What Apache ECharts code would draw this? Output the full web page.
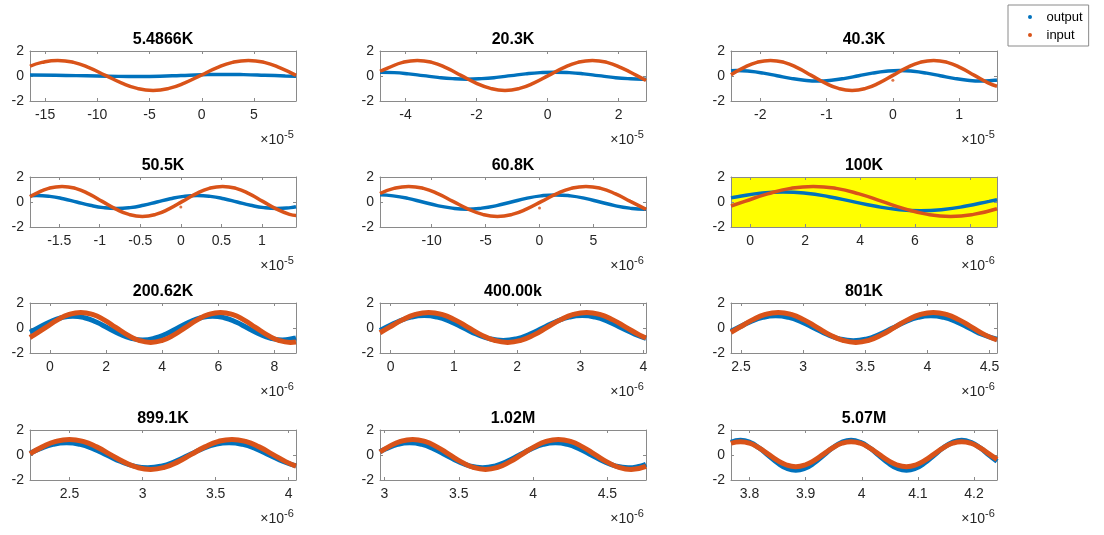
<!DOCTYPE html>
<html><head><meta charset="utf-8">
<script src="https://cdn.jsdelivr.net/npm/echarts@6/dist/echarts.min.js"></script>
<style>html,body{margin:0;padding:0;background:#fff}#c{width:1104px;height:535px}</style>
</head><body><div id="c"></div>
<script>
// ---------------- DATA ----------------
const titles = ['5.4866K','20.3K','40.3K','50.5K','60.8K','100K','200.62K','400.00k','801K','899.1K','1.02M','5.07M'];
const exponents = ['-5','-5','-5','-5','-6','-6','-6','-6','-6','-6','-6','-6'];
const xMins = [-16.44, -4.72, -2.44, -1.86, -14.8, -0.70, -0.71, -0.17, 2.42, 2.23, 2.97, 3.767];
const xMaxs = [9.02, 2.77, 1.57, 1.42, 9.88, 8.99, 8.77, 4.04, 4.56, 4.05, 4.76, 4.241];
const xTicks = [
  [-15,-10,-5,0,5], [-4,-2,0,2], [-2,-1,0,1],
  [-1.5,-1,-0.5,0,0.5,1], [-10,-5,0,5], [0,2,4,6,8],
  [0,2,4,6,8], [0,1,2,3,4], [2.5,3,3.5,4,4.5],
  [2.5,3,3.5,4], [3,3.5,4,4.5], [3.8,3.9,4,4.1,4.2]
];
const yTicks = [-2, 0, 2];
const seriesNames = ['output', 'input'];

// panel 1: 5.4866K
const out1X = [-16.44,-14,-12,-10,-8,-6,-4,-2,0,2,4,6,8,9.02];
const out1Y = [0.08,0.06,0.03,0.0,-0.03,-0.04,-0.02,0.04,0.1,0.13,0.11,0.06,0.0,-0.03];
const in1X = [-16.44,-15.3,-13.78,-12.26,-10.74,-9.22,-7.7,-6.18,-4.66,-3.14,-1.62,-0.1,1.42,2.94,4.46,5.98,7.5,9.02];
const in1Y = [0.78,1.09,1.25,1.09,0.65,0.05,-0.55,-0.99,-1.15,-0.99,-0.55,0.05,0.65,1.09,1.25,1.09,0.65,0.05];
// panel 2: 20.3K
const out2X = [-4.72,-4.32,-3.91,-3.50,-3.09,-2.68,-2.27,-1.86,-1.44,-1.03,-0.62,-0.21,0.2,0.61,1.02,1.43,1.84,2.26,2.67,2.77];
const out2Y = [0.3,0.27,0.17,0.03,-0.11,-0.21,-0.25,-0.21,-0.11,0.03,0.17,0.27,0.31,0.27,0.17,0.03,-0.11,-0.21,-0.25,-0.25];
const in2X = [-4.72,-4.49,-4.08,-3.67,-3.26,-2.85,-2.44,-2.03,-1.61,-1.20,-0.79,-0.38,0.03,0.44,0.85,1.26,1.67,2.08,2.50,2.77];
const in2Y = [0.38,0.65,1.09,1.25,1.09,0.65,0.05,-0.55,-0.99,-1.15,-0.99,-0.55,0.05,0.65,1.09,1.25,1.09,0.65,0.05,-0.36];
// panel 3: 40.3K
const out3X = [-2.44,-2.36,-2.155,-1.95,-1.745,-1.54,-1.335,-1.13,-0.925,-0.72,-0.515,-0.31,-0.105,0.1,0.305,0.51,0.715,0.92,1.125,1.33,1.535,1.57];
const out3Y = [0.43,0.44,0.38,0.23,0.02,-0.19,-0.34,-0.40,-0.34,-0.19,0.02,0.23,0.38,0.44,0.38,0.23,0.02,-0.19,-0.34,-0.40,-0.34,-0.32];
const in3X = [-2.44,-2.255,-2.05,-1.845,-1.64,-1.435,-1.23,-1.025,-0.82,-0.615,-0.41,-0.205,0,0.205,0.41,0.615,0.82,1.025,1.23,1.435,1.57];
const in3Y = [0.1,0.65,1.09,1.25,1.09,0.65,0.05,-0.55,-0.99,-1.15,-0.99,-0.55,0.05,0.65,1.09,1.25,1.09,0.65,0.05,-0.55,-0.82];
// panel 4: 50.5K
const out4X = [-1.86,-1.78,-1.615,-1.45,-1.285,-1.12,-0.955,-0.79,-0.625,-0.46,-0.295,-0.13,0.035,0.2,0.365,0.53,0.695,0.86,1.025,1.19,1.355,1.42];
const out4Y = [0.50,0.52,0.45,0.26,0,-0.26,-0.45,-0.52,-0.45,-0.26,0,0.26,0.45,0.52,0.45,0.26,0,-0.26,-0.45,-0.52,-0.45,-0.38];
const in4X = [-1.86,-1.795,-1.63,-1.465,-1.30,-1.135,-0.97,-0.805,-0.64,-0.475,-0.31,-0.145,0.02,0.185,0.35,0.515,0.68,0.845,1.01,1.175,1.34,1.42];
const in4Y = [0.42,0.65,1.09,1.25,1.09,0.65,0.05,-0.55,-0.99,-1.15,-0.99,-0.55,0.05,0.65,1.09,1.25,1.09,0.65,0.05,-0.55,-0.99,-1.07];
// panel 5: 60.8K
const out5X = [-14.8,-13.58,-12.21,-10.84,-9.47,-8.10,-6.73,-5.36,-3.98,-2.61,-1.24,0.13,1.5,2.87,4.24,5.61,6.98,8.36,9.73,9.88];
const out5Y = [0.57,0.49,0.29,0,-0.29,-0.49,-0.57,-0.49,-0.29,0,0.29,0.49,0.57,0.49,0.29,0,-0.29,-0.49,-0.57,-0.57];
const in5X = [-14.8,-13.51,-12.14,-10.77,-9.40,-8.03,-6.66,-5.28,-3.91,-2.54,-1.17,0.2,1.57,2.94,4.31,5.68,7.06,8.43,9.8,9.88];
const in5Y = [0.68,1.09,1.25,1.09,0.65,0.05,-0.55,-0.99,-1.15,-0.99,-0.55,0.05,0.65,1.09,1.25,1.09,0.65,0.05,-0.55,-0.59];
// panel 6: 100K
const out6X = [-0.70,-0.467,0.367,1.2,2.033,2.867,3.7,4.533,5.367,6.2,7.033,7.867,8.7,8.99];
const out6Y = [0.33,0.425,0.70,0.80,0.70,0.425,0.05,-0.325,-0.60,-0.70,-0.60,-0.325,0.05,0.185];
const in6X = [-0.70,-0.2,0.633,1.467,2.3,3.133,3.967,4.8,5.633,6.467,7.3,8.133,8.99];
const in6Y = [-0.32,0.05,0.65,1.09,1.25,1.09,0.65,0.05,-0.55,-0.99,-1.15,-0.99,-0.54];
// panel 7: 200.62K
const out7X = [-0.71,-0.425,-0.01,0.405,0.82,1.235,1.65,2.065,2.48,2.895,3.31,3.725,4.14,4.555,4.97,5.385,5.8,6.215,6.63,7.045,7.46,7.875,8.29,8.705,8.77];
const out7Y = [-0.33,0,0.475,0.82,0.95,0.82,0.475,0,-0.475,-0.82,-0.95,-0.82,-0.475,0,0.475,0.82,0.95,0.82,0.475,0,-0.475,-0.82,-0.95,-0.82,-0.79];
const in7X = [-0.71,-0.56,-0.145,0.27,0.685,1.1,1.515,1.93,2.345,2.76,3.175,3.59,4.005,4.42,4.835,5.25,5.665,6.08,6.495,6.91,7.325,7.74,8.155,8.57,8.77];
const in7Y = [-0.76,-0.55,0.05,0.65,1.09,1.25,1.09,0.65,0.05,-0.55,-0.99,-1.15,-0.99,-0.55,0.05,0.65,1.09,1.25,1.09,0.65,0.05,-0.55,-0.99,-1.15,-1.12];
// panel 8: 400.00k
const out8X = [-0.17,-0.095,0.113,0.322,0.53,0.738,0.947,1.155,1.363,1.572,1.78,1.988,2.197,2.405,2.613,2.822,3.03,3.238,3.447,3.655,3.863,4.04];
const out8Y = [-0.19,0,0.5,0.87,1.0,0.87,0.5,0,-0.5,-0.87,-1.0,-0.87,-0.5,0,0.5,0.87,1.0,0.87,0.5,0,-0.5,-0.82];
const in8X = [-0.17,-0.025,0.183,0.392,0.6,0.808,1.017,1.225,1.433,1.642,1.85,2.058,2.267,2.475,2.683,2.892,3.1,3.308,3.517,3.725,3.933,4.04];
const in8Y = [-0.38,0.05,0.65,1.09,1.25,1.09,0.65,0.05,-0.55,-0.99,-1.15,-0.99,-0.55,0.05,0.65,1.09,1.25,1.09,0.65,0.05,-0.55,-0.80];
// panel 9: 801K
const out9X = [2.42,2.468,2.572,2.676,2.78,2.884,2.988,3.092,3.196,3.3,3.404,3.508,3.612,3.716,3.82,3.924,4.028,4.132,4.236,4.34,4.444,4.56];
const out9Y = [-0.26,-0.02,0.48,0.85,0.98,0.85,0.48,-0.02,-0.52,-0.89,-1.02,-0.89,-0.52,-0.02,0.48,0.85,0.98,0.85,0.48,-0.02,-0.52,-0.90];
const in9X = [2.42,2.488,2.592,2.696,2.8,2.904,3.008,3.112,3.216,3.32,3.424,3.528,3.632,3.736,3.84,3.944,4.048,4.152,4.256,4.36,4.464,4.56];
const in9Y = [-0.35,0.05,0.65,1.09,1.25,1.09,0.65,0.05,-0.55,-0.99,-1.15,-0.99,-0.55,0.05,0.65,1.09,1.25,1.09,0.65,0.05,-0.55,-0.96];
// panel 10: 899.1K
const out10X = [2.23,2.295,2.387,2.48,2.573,2.665,2.758,2.851,2.944,3.036,3.129,3.222,3.314,3.407,3.5,3.592,3.685,3.778,3.87,3.963,4.05];
const out10Y = [0.14,0.48,0.85,0.98,0.85,0.48,-0.02,-0.52,-0.89,-1.02,-0.89,-0.52,-0.02,0.48,0.85,0.98,0.85,0.48,-0.02,-0.52,-0.87];
const in10X = [2.23,2.315,2.407,2.5,2.593,2.686,2.778,2.871,2.964,3.056,3.149,3.242,3.334,3.427,3.52,3.612,3.705,3.798,3.89,3.983,4.05];
const in10Y = [0.10,0.65,1.09,1.25,1.09,0.65,0.05,-0.55,-0.99,-1.15,-0.99,-0.55,0.05,0.65,1.09,1.25,1.09,0.65,0.05,-0.55,-0.89];
// panel 11: 1.02M
const out11X = [2.97,3.007,3.088,3.17,3.252,3.333,3.415,3.497,3.578,3.66,3.742,3.823,3.905,3.987,4.068,4.15,4.232,4.313,4.395,4.477,4.558,4.64,4.722,4.76];
const out11Y = [0.26,0.48,0.85,0.98,0.85,0.48,-0.02,-0.52,-0.89,-1.02,-0.89,-0.52,-0.02,0.48,0.85,0.98,0.85,0.48,-0.02,-0.52,-0.89,-1.02,-0.89,-0.74];
const in11X = [2.97,3.027,3.108,3.19,3.272,3.353,3.435,3.517,3.598,3.68,3.762,3.843,3.925,4.007,4.088,4.17,4.252,4.333,4.415,4.497,4.578,4.66,4.76];
const in11Y = [0.24,0.65,1.09,1.25,1.09,0.65,0.05,-0.55,-0.99,-1.15,-0.99,-0.55,0.05,0.65,1.09,1.25,1.09,0.65,0.05,-0.55,-0.99,-1.15,-0.91];
// panel 12: 5.07M
const out12X = [3.767,3.784,3.8004,3.8168,3.8333,3.8497,3.8661,3.8825,3.8989,3.9154,3.9318,3.9482,3.9646,3.981,3.9975,4.0139,4.0303,4.0467,4.0631,4.0796,4.096,4.1124,4.1288,4.1452,4.1617,4.1781,4.1945,4.2109,4.2273,4.241];
const out12Y = [1.01,1.175,1.01,0.575,-0.025,-0.625,-1.06,-1.225,-1.06,-0.625,-0.025,0.575,1.01,1.175,1.01,0.575,-0.025,-0.625,-1.06,-1.225,-1.06,-0.625,-0.025,0.575,1.01,1.175,1.01,0.575,-0.025,-0.51];
const in12X = [3.767,3.784,3.8004,3.8168,3.8333,3.8497,3.8661,3.8825,3.8989,3.9154,3.9318,3.9482,3.9646,3.981,3.9975,4.0139,4.0303,4.0467,4.0631,4.0796,4.096,4.1124,4.1288,4.1452,4.1617,4.1781,4.1945,4.2109,4.2273,4.241];
const in12Y = [0.94,1.07,0.94,0.57,0.07,-0.43,-0.80,-0.93,-0.80,-0.43,0.07,0.57,0.94,1.07,0.94,0.57,0.07,-0.43,-0.80,-0.93,-0.80,-0.43,0.07,0.57,0.94,1.07,0.94,0.57,0.07,-0.35];
// stray input samples seen at t = 0
const strayPanel = [2, 3, 4];
const strayX = [0, 0, 0];
const strayY = [-0.34, -0.39, -0.47];

// ---------------- BUILD ----------------
const outX = [out1X,out2X,out3X,out4X,out5X,out6X,out7X,out8X,out9X,out10X,out11X,out12X];
const outY = [out1Y,out2Y,out3Y,out4Y,out5Y,out6Y,out7Y,out8Y,out9Y,out10Y,out11Y,out12Y];
const inX = [in1X,in2X,in3X,in4X,in5X,in6X,in7X,in8X,in9X,in10X,in11X,in12X];
const inY = [in1Y,in2Y,in3Y,in4Y,in5Y,in6Y,in7Y,in8Y,in9Y,in10Y,in11Y,in12Y];
const zip = (a, b) => a.map((v, i) => [v, b[i]]);

const FONT = '"Liberation Sans", Arial, Helvetica, sans-serif';
const BLUE = '#0072BD', ORANGE = '#D95319';
const AXIS = '#8a8a8a', TXT = '#262626';
const colLeft = [30, 380, 731];
const colW = 266;
const rowTop = [51, 177, 303, 430];
const rowH = 50;

const grid = [], xAxis = [], yAxis = [], series = [], graphic = [];
const N = 12;
for (let i = 0; i < N; i++) {
  const r = Math.floor(i / 3), c = i % 3;
  grid.push({
    left: colLeft[c], top: rowTop[r], width: colW, height: rowH,
    show: i === 5, backgroundColor: '#ffff00', borderWidth: 0, containLabel: false
  });
}
const tick = (vals) => ({ show: true, inside: true, length: 3, customValues: vals, lineStyle: { color: AXIS } });
for (let i = 0; i < N; i++) {
  xAxis.push({
    type: 'value', gridIndex: i, position: 'bottom', min: xMins[i], max: xMaxs[i],
    axisLine: { show: true, onZero: false, lineStyle: { color: AXIS, width: 1 } },
    axisTick: tick(xTicks[i]),
    axisLabel: { customValues: xTicks[i], fontSize: 14, color: TXT, fontFamily: FONT, margin: 7 },
    splitLine: { show: false }
  });
}
for (let i = 0; i < N; i++) {
  xAxis.push({
    type: 'value', gridIndex: i, position: 'top', min: xMins[i], max: xMaxs[i],
    axisLine: { show: true, onZero: false, lineStyle: { color: AXIS, width: 1 } },
    axisTick: tick(xTicks[i]), axisLabel: { show: false }, splitLine: { show: false }
  });
}
for (let i = 0; i < N; i++) {
  yAxis.push({
    type: 'value', gridIndex: i, position: 'left', min: -2, max: 2,
    axisLine: { show: true, onZero: false, lineStyle: { color: AXIS, width: 1 } },
    axisTick: tick(yTicks),
    axisLabel: { customValues: yTicks, fontSize: 14, color: TXT, fontFamily: FONT, margin: 6 },
    splitLine: { show: false }
  });
}
for (let i = 0; i < N; i++) {
  yAxis.push({
    type: 'value', gridIndex: i, position: 'right', min: -2, max: 2,
    axisLine: { show: true, onZero: false, lineStyle: { color: AXIS, width: 1 } },
    axisTick: tick(yTicks), axisLabel: { show: false }, splitLine: { show: false }
  });
}
for (let i = 0; i < N; i++) {
  const r = Math.floor(i / 3);
  const w = r < 2 ? 3.5 : 5;
  series.push({
    name: seriesNames[0], type: 'line', xAxisIndex: i, yAxisIndex: i,
    data: zip(outX[i], outY[i]), showSymbol: false, smooth: 0.5, clip: true,
    color: BLUE, lineStyle: { color: BLUE, width: w }, z: 2
  });
  series.push({
    name: seriesNames[1], type: 'line', xAxisIndex: i, yAxisIndex: i,
    data: zip(inX[i], inY[i]), showSymbol: false, smooth: 0.5, clip: true,
    color: ORANGE, lineStyle: { color: ORANGE, width: w }, z: 3
  });
}
strayPanel.forEach((p, k) => {
  series.push({
    name: seriesNames[1], type: 'scatter', xAxisIndex: p, yAxisIndex: p,
    data: [[strayX[k], strayY[k]]], symbolSize: 3, color: ORANGE, itemStyle: { color: ORANGE }, z: 4
  });
});
for (let i = 0; i < N; i++) {
  const r = Math.floor(i / 3), c = i % 3;
  const left = colLeft[c], top = rowTop[r];
  graphic.push({
    type: 'text', x: left + colW / 2, y: top - 11, silent: true,
    style: { text: titles[i], font: 'bold 16px ' + FONT, fill: '#000', align: 'center', verticalAlign: 'middle' }
  });
  const right = left + colW, bottom = top + rowH;
  graphic.push({
    type: 'text', x: right - 12, y: bottom + 39, silent: true,
    style: { text: '\u00d710', font: '14px ' + FONT, fill: TXT, align: 'right', verticalAlign: 'middle' }
  });
  graphic.push({
    type: 'text', x: right - 12, y: bottom + 34, silent: true,
    style: { text: exponents[i], font: '11px ' + FONT, fill: TXT, align: 'left', verticalAlign: 'middle' }
  });
}

const chart = echarts.init(document.getElementById('c'), null, { renderer: 'canvas' });
chart.setOption({
  animation: false,
  backgroundColor: '#ffffff',
  textStyle: { fontFamily: FONT },
  legend: {
    show: true, orient: 'vertical', left: 1008, top: 5,
    data: [{ name: seriesNames[0], icon: 'circle' }, { name: seriesNames[1], icon: 'circle' }],
    itemWidth: 23, itemHeight: 4, itemGap: 4,
    padding: [5, 6, 4, 20],
    borderColor: '#8a8a8a', borderWidth: 1, backgroundColor: '#fff',
    textStyle: { fontSize: 13, color: '#000', fontFamily: FONT, lineHeight: 14 }
  },
  grid, xAxis, yAxis, series, graphic
});
</script>
</body></html>
